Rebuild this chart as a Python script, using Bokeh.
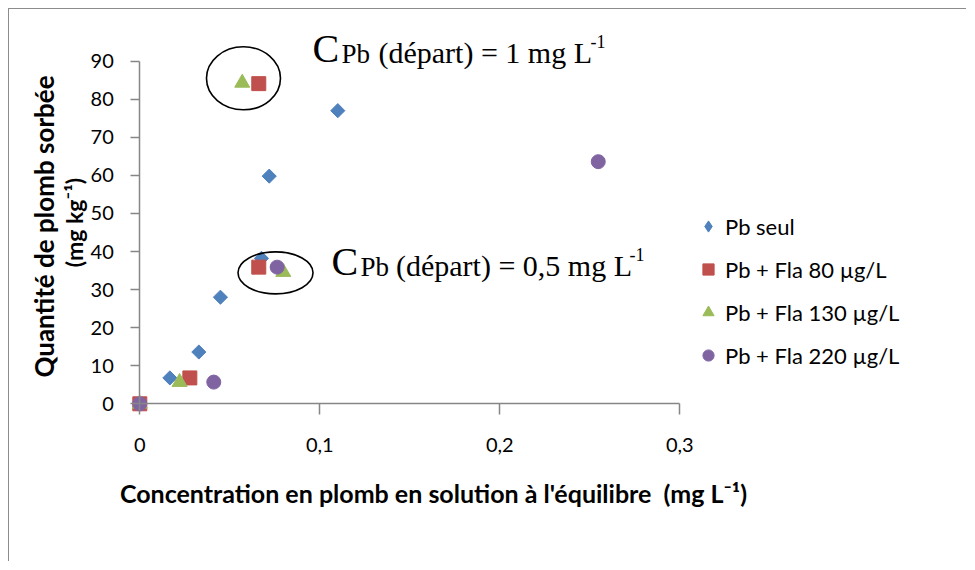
import math
from bokeh.plotting import figure
from bokeh.models import Range1d, FixedTicker, Label, Legend, LegendItem
from bokeh.embed import file_html
from bokeh.resources import INLINE

# ---------------- data ----------------
pb_seul_x = [0, 0.0167, 0.0328, 0.0448, 0.0676, 0.0719, 0.110]
pb_seul_y = [0, 6.8, 13.6, 28.0, 38.2, 59.8, 77.0]
fla80_x = [0, 0.0278, 0.0661, 0.0661]
fla80_y = [0, 6.8, 35.9, 84.1]
fla130_x = [0, 0.0221, 0.0797, 0.0569]
fla130_y = [0, 5.7, 34.6, 84.3]
fla220_x = [0, 0.0411, 0.0763, 0.2547]
fla220_y = [0, 5.7, 35.9, 63.6]

series_names = ["Pb seul", "Pb + Fla 80 µg/L", "Pb + Fla 130 µg/L", "Pb + Fla 220 µg/L"]

x_ticks = [0, 0.1, 0.2, 0.3]
x_tick_labels = ["0", "0,1", "0,2", "0,3"]
y_ticks = [0, 10, 20, 30, 40, 50, 60, 70, 80, 90]
y_tick_labels = ["0", "10", "20", "30", "40", "50", "60", "70", "80", "90"]

x_title = "Concentration en plomb en solution à l'équilibre\u00a0\u00a0(mg L⁻¹)"
y_title_1 = "Quantité de plomb sorbée"
y_title_2 = "(mg kg⁻¹)"

# ellipses marking the starting concentrations (data coords of centres)
ell_x = [0.0576, 0.0754]
ell_y = [85.5, 34.4]

# ---------------- geometry (page pixels -> data) ----------------
PX_X = 1800.0   # pixels per x unit
PX_Y = 3.807    # pixels per y unit
X0_PAGE, Y0_PAGE = 139.3, 403.3   # page position of the data origin
FRAME_LEFT, FRAME_TOP = 9, 9       # page position of the canvas corner
FW, FH = 957, 552

x_start = -(X0_PAGE - FRAME_LEFT) / PX_X
x_end = x_start + FW / PX_X
y_end = (Y0_PAGE - FRAME_TOP) / PX_Y
y_start = y_end - FH / PX_Y

p = figure(
    output_backend="svg", toolbar_location=None,
    x_range=Range1d(x_start, x_end), y_range=Range1d(y_start, y_end),
    frame_width=FW, frame_height=FH,
    min_border_left=0, min_border_right=0, min_border_top=0, min_border_bottom=0,
)
p.styles = {"margin-left": "8px", "margin-top": "8px",
            "border-left": "1px solid #8c8c8c", "border-top": "1px solid #8c8c8c"}
p.background_fill_color = "white"
p.border_fill_color = "white"
p.outline_line_color = None
p.xgrid.visible = False
p.ygrid.visible = False

xa = p.xaxis[0]
ya = p.yaxis[0]
xa.fixed_location = 0
ya.fixed_location = 0
xa.bounds = (0, 0.3)
ya.bounds = (0, 90)
xa.ticker = FixedTicker(ticks=x_ticks)
ya.ticker = FixedTicker(ticks=y_ticks)
xa.major_label_overrides = dict(zip(x_ticks, x_tick_labels))
ya.major_label_overrides = dict(zip(y_ticks, y_tick_labels))
for ax in (xa, ya):
    ax.axis_line_color = "#868686"
    ax.axis_line_width = 1.5
    ax.major_tick_line_color = "#868686"
    ax.major_tick_line_width = 1.5
    ax.major_tick_in = 0
    ax.minor_tick_line_color = None
    ax.major_label_text_font = "Lato"
    ax.major_label_text_font_size = "20px"
    ax.major_label_text_color = "black"
xa.major_tick_out = 11
ya.major_tick_out = 9
xa.major_label_standoff = 23
ya.major_label_standoff = 17

r_pb = p.scatter(pb_seul_x, pb_seul_y, marker="square", angle=math.pi / 4, size=10,
                 fill_color="#4F81BD", line_color="#4F81BD")
r_80 = p.scatter(fla80_x, fla80_y, marker="square", size=14,
                 fill_color="#C0504D", line_color="#C0504D")
r_130 = p.scatter(fla130_x, fla130_y, marker="triangle", size=15,
                  fill_color="#9BBB59", line_color="#9BBB59")
r_220 = p.scatter(fla220_x, fla220_y, marker="circle", size=14,
                  fill_color="#8064A2", line_color="#8064A2")

# zero-size copy of the first series, used only for its diamond legend symbol
r_pb_leg = p.scatter(pb_seul_x, pb_seul_y, marker="diamond", size=0,
                     fill_color="#4F81BD", line_color="#4F81BD")

p.ellipse(x=ell_x, y=ell_y, width=[74, 75], height=[63, 42],
          width_units="screen", height_units="screen",
          fill_color=None, line_color="black", line_width=1.6)

legend = Legend(
    items=[LegendItem(label=n, renderers=[r]) for n, r in
           zip(series_names, [r_pb_leg, r_80, r_130, r_220])],
    location=(694 - FRAME_LEFT, FRAME_TOP + FH - 369),
    border_line_color=None, background_fill_alpha=0,
    padding=0, margin=0, spacing=15, glyph_width=28, glyph_height=28,
    label_standoff=3, label_height=28,
    label_text_font="Lato", label_text_font_size="22px", label_text_color="black",
)
p.add_layout(legend)


def dx(px):
    return (px - X0_PAGE) / PX_X


def dy(py):
    return (Y0_PAGE - py) / PX_Y


def add_text(px, py, text, size, font="Liberation Serif", bold=False, angle=0.0,
             align="left", baseline="alphabetic"):
    p.add_layout(Label(x=dx(px), y=dy(py), text=text, text_font=font,
                       text_font_size=f"{size}px", text_color="black",
                       text_font_style="bold" if bold else "normal",
                       angle=angle, text_align=align, text_baseline=baseline))


# axis titles
add_text(433, 492, x_title, 25, font="Lato", bold=True, align="center", baseline="middle")
add_text(43, 226, y_title_1, 26, font="Lato", bold=True, angle=math.pi / 2,
         align="center", baseline="middle")
add_text(73, 222, y_title_2, 23, font="Lato", bold=True, angle=math.pi / 2,
         align="center", baseline="middle")

# annotations  C_Pb (départ) = ... mg L^-1
K = 0.43  # baseline correction (fraction of the font size)


def serif(px, base, text, size):
    add_text(px, base - K * size, text, size)


def annotation(xc, xpb, xmain, xsup, base, value_text):
    serif(xc, base, "C", 40)
    serif(xpb, base, "Pb", 27)
    serif(xmain, base, f"(départ) = {value_text} mg L", 30)
    serif(xsup, base - 16, "-1", 18)


annotation(312.0, 341.0, 378.0, 590.0, 65, "1")
annotation(331.0, 360.0, 395.5, 629.0, 277.7, "0,5")

open("out.html", "w").write(file_html(p, INLINE))
